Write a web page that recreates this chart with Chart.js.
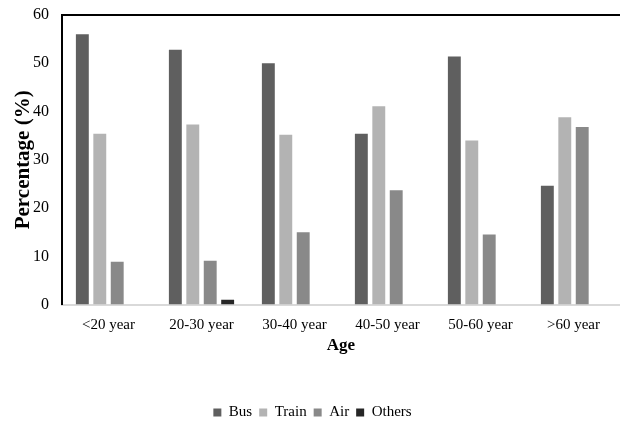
<!DOCTYPE html>
<html>
<head>
<meta charset="utf-8">
<script src="https://cdn.jsdelivr.net/npm/chart.js@4"></script>
<style>
  html, body { margin: 0; padding: 0; background: #fff; }
  #wrap { width: 620px; height: 423px; }
</style>
</head>
<body>
<div id="wrap"><canvas id="chart"></canvas></div>
<script>
// age groups on the x axis
const ageGroups = ['<20 year', '20-30 year', '30-40 year', '40-50 year', '50-60 year', '>60 year'];

// percentage per transport mode
const bus = [56.0, 52.8, 50.0, 35.4, 51.4, 24.6];
const train = [35.4, 37.3, 35.2, 41.1, 34.0, 38.8];
const air = [8.9, 9.1, 15.0, 23.7, 14.5, 36.8];
const others = [0, 1.0, 0, 0, 0, 0];

const yTicks = [0, 10, 20, 30, 40, 50, 60];

const serif = 'Liberation Serif, Times New Roman, serif';

// black line across the top of the plot area
const topBorder = {
  id: 'topBorder',
  afterDraw(chart) {
    const { ctx, chartArea } = chart;
    ctx.save();
    ctx.strokeStyle = '#000';
    ctx.lineWidth = 2;
    ctx.beginPath();
    ctx.moveTo(chartArea.left, chartArea.top);
    ctx.lineTo(chartArea.right, chartArea.top);
    ctx.stroke();
    ctx.restore();
  }
};

const ctx = document.getElementById('chart').getContext('2d');
new Chart(ctx, {
  type: 'bar',
  data: {
    labels: ageGroups,
    datasets: [
      { label: 'Bus', data: bus, backgroundColor: '#5f5f5f' },
      { label: 'Train', data: train, backgroundColor: '#b3b3b3' },
      { label: 'Air', data: air, backgroundColor: '#898989' },
      { label: 'Others', data: others, backgroundColor: '#262626' }
    ]
  },
  options: {
    responsive: true,
    maintainAspectRatio: false,
    animation: false,
    datasets: {
      bar: { categoryPercentage: 0.75, barPercentage: 0.74 }
    },
    layout: { padding: { top: 15, right: -5, left: 0, bottom: -7 } },
    plugins: {
      tooltip: { enabled: false },
      legend: {
        position: 'bottom',
        labels: {
          boxWidth: 8,
          boxHeight: 8,
          padding: 7,
          color: '#000',
          font: { family: serif, size: 15 }
        }
      }
    },
    scales: {
      x: {
        afterFit(axis) {
          axis.paddingRight = 0;
          axis.paddingLeft = 0;
        },
        grid: { display: false, drawTicks: false },
        border: { color: '#d9d9d9', width: 2 },
        ticks: { color: '#000', padding: 11, maxRotation: 0, font: { family: serif, size: 15 } },
        title: {
          display: true,
          text: 'Age',
          color: '#000',
          padding: { top: -9, bottom: 42 },
          font: { family: serif, size: 17, weight: 'bold' }
        }
      },
      y: {
        min: 0,
        max: 60,
        afterBuildTicks(axis) {
          axis.ticks = yTicks.map(v => ({ value: v }));
        },
        afterFit(axis) {
          axis.width = 62;
          axis.paddingTop = 0;
        },
        grid: { display: false, drawTicks: false },
        border: { color: '#000', width: 2 },
        ticks: { color: '#000', padding: 13, font: { family: serif, size: 16 } },
        title: {
          display: true,
          text: 'Percentage (%)',
          color: '#000',
          padding: { top: 11, bottom: 0 },
          font: { family: serif, size: 21, weight: 'bold' }
        }
      }
    }
  },
  plugins: [topBorder]
});
</script>
</body>
</html>
